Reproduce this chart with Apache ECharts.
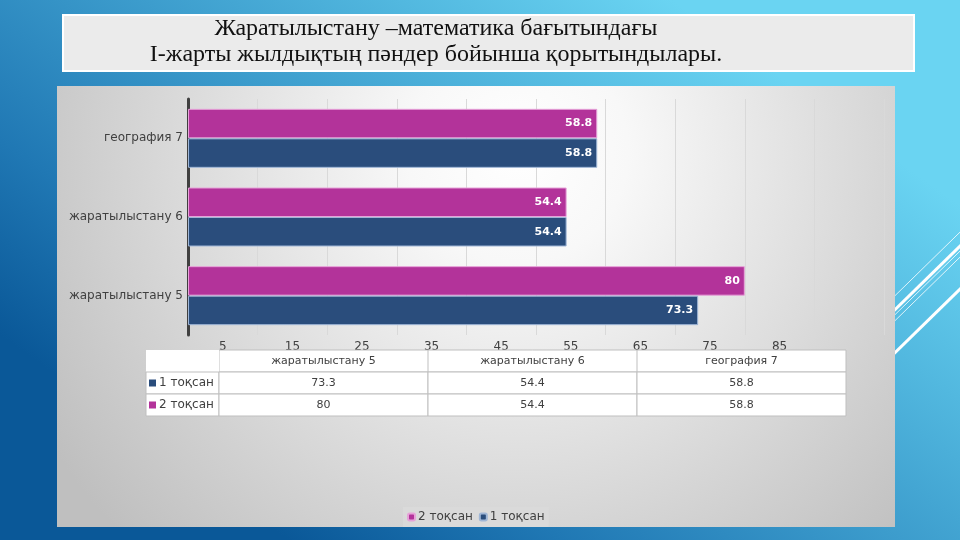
<!DOCTYPE html>
<html lang="kk">
<head>
    <meta charset="UTF-8">
    <title>Жаратылыстану – математика</title>
    <script src="https://cdn.jsdelivr.net/npm/echarts@6/dist/echarts.min.js"></script>
    <style>
        html, body { margin: 0; padding: 0; }
        #main { width: 960px; height: 540px; }
    </style>
</head>
<body>
<div id="main"></div>
<script>
    // данные
    var categories = ['жаратылыстану 5', 'жаратылыстану 6', 'география 7'];
    var q1Name = '1 тоқсан';
    var q2Name = '2 тоқсан';
    var q1Values = [73.3, 54.4, 58.8];
    var q2Values = [80, 54.4, 58.8];
    var xTickLabels = [5, 15, 25, 35, 45, 55, 65, 75, 85];
    var titleLines = ['Жаратылыстану –математика бағытындағы',
                      'І-жарты жылдықтың пәндер бойынша қорытындылары.'];

    var pink = '#b3339a';
    var blue = '#2a4d7c';
    var txt = '#404040';

    var myChart = echarts.init(document.getElementById('main'));

    // таблица под графиком
    var tbl = {x: 146, y: 350, firstW: 73, colW: 209, rowH: 22};
    var tableEls = [];
    var tblW = tbl.firstW + tbl.colW * categories.length;
    tableEls.push({type: 'rect', z: 1, shape: {x: tbl.x + tbl.firstW, y: tbl.y, width: tblW - tbl.firstW, height: tbl.rowH},
        style: {fill: '#ffffff', stroke: '#bfbfbf', lineWidth: 1}});
    tableEls.push({type: 'rect', z: 1, shape: {x: tbl.x, y: tbl.y, width: tbl.firstW, height: tbl.rowH},
        style: {fill: '#ffffff'}});
    var rows = [[q1Name, q1Values, blue], [q2Name, q2Values, pink]];
    categories.forEach(function (c, i) {
        tableEls.push({type: 'text', z: 2, style: {
            x: tbl.x + tbl.firstW + tbl.colW * (i + 0.5), y: tbl.y + tbl.rowH / 2,
            text: c, fill: txt, font: '11px "DejaVu Sans"', align: 'center', verticalAlign: 'middle'}});
    });
    rows.forEach(function (r, ri) {
        var ry = tbl.y + tbl.rowH * (ri + 1);
        tableEls.push({type: 'rect', z: 1, shape: {x: tbl.x, y: ry, width: tbl.firstW, height: tbl.rowH},
            style: {fill: '#ffffff', stroke: '#bfbfbf', lineWidth: 1}});
        tableEls.push({type: 'rect', z: 2, shape: {x: tbl.x + 3, y: ry + tbl.rowH / 2 - 3.5, width: 7, height: 7},
            style: {fill: r[2]}});
        tableEls.push({type: 'text', z: 2, style: {
            x: tbl.x + 13, y: ry + tbl.rowH / 2, text: r[0], fill: txt,
            font: '12px "DejaVu Sans"', align: 'left', verticalAlign: 'middle'}});
        r[1].forEach(function (v, i) {
            var cx = tbl.x + tbl.firstW + tbl.colW * i;
            tableEls.push({type: 'rect', z: 1, shape: {x: cx, y: ry, width: tbl.colW, height: tbl.rowH},
                style: {fill: '#ffffff', stroke: '#bfbfbf', lineWidth: 1}});
            tableEls.push({type: 'text', z: 2, style: {
                x: cx + tbl.colW / 2, y: ry + tbl.rowH / 2, text: String(v), fill: txt,
                font: '11px "DejaVu Sans"', align: 'center', verticalAlign: 'middle'}});
        });
    });
    for (var k = 1; k < categories.length; k++) {
        var lx = tbl.x + tbl.firstW + tbl.colW * k;
        tableEls.push({type: 'line', z: 2, shape: {x1: lx, y1: tbl.y, x2: lx, y2: tbl.y + tbl.rowH},
            style: {stroke: '#bfbfbf', lineWidth: 1}});
    }

    // декоративные линии справа
    var deco = [];
    [[296, 0.8], [310, 3], [315, 0.8], [321, 0.8], [353, 3]].forEach(function (d) {
        deco.push({type: 'line', z: -5, shape: {x1: 820, y1: d[0] + 73, x2: 1000, y2: d[0] - 103},
            style: {stroke: '#ffffff', lineWidth: d[1]}});
    });

    var option = {
        animation: false,
        graphic: [
            {type: 'rect', z: -10, shape: {x: 0, y: 0, width: 960, height: 540},
                style: {fill: {type: 'linear', x: 0.7, y: 0, x2: 0.3, y2: 1, colorStops: [
                    {offset: 0, color: '#6ad4f2'}, {offset: 0.24, color: '#52b8df'},
                    {offset: 0.76, color: '#2078b4'}, {offset: 1, color: '#0a5898'}]}}}
        ].concat(deco).concat([
            {type: 'rect', z: -4, shape: {x: 63, y: 15, width: 851, height: 56},
                style: {fill: '#ebebeb', stroke: '#ffffff', lineWidth: 2}},
            {type: 'text', z: -3, style: {x: 436, y: 29, text: titleLines[0], fill: '#111111',
                font: '24px "Liberation Serif"', align: 'center', verticalAlign: 'middle'}},
            {type: 'text', z: -3, style: {x: 436, y: 55, text: titleLines[1], fill: '#111111',
                font: '24px "Liberation Serif"', align: 'center', verticalAlign: 'middle'}},
            {type: 'rect', z: -4, shape: {x: 57, y: 86, width: 838, height: 441},
                style: {fill: {type: 'radial', x: 0.55, y: 0.15, r: 1.25, colorStops: [
                    {offset: 0, color: '#ffffff'}, {offset: 0.2, color: '#f8f8f8'},
                    {offset: 0.7, color: '#d4d4d4'}, {offset: 1, color: '#bfbfbf'}]}}}
        ]).concat(tableEls),
        legend: {
            data: [q2Name, q1Name],
            bottom: 13,
            left: 403,
            itemWidth: 7,
            itemHeight: 7,
            itemGap: 6,
            padding: [4, 4],
            backgroundColor: 'rgba(220,220,220,0.7)',
            textStyle: {color: txt, fontFamily: 'DejaVu Sans', fontSize: 12, padding: [0, 0, 0, -2]}
        },
        grid: {left: 188, right: 76, top: 99, bottom: 205, containLabel: false},
        xAxis: [
            {
                type: 'value', min: 0, max: 100, interval: 10,
                axisLine: {show: false}, axisTick: {show: false}, axisLabel: {show: false},
                splitLine: {show: true, lineStyle: {color: '#d9d9d9', width: 1}}
            },
            {
                type: 'value', min: 0, max: 100, interval: 5, position: 'bottom',
                axisLine: {show: false}, axisTick: {show: false}, splitLine: {show: false},
                axisLabel: {
                    color: txt, fontFamily: 'DejaVu Sans', fontSize: 12, margin: 6, showMaxLabel: true,
                    formatter: function (v) { return xTickLabels.indexOf(v) >= 0 ? String(v) : ''; }
                }
            }
        ],
        yAxis: {
            type: 'category', data: categories,
            axisLine: {show: true, lineStyle: {color: '#404040', width: 3}},
            axisTick: {show: false},
            axisLabel: {color: txt, fontFamily: 'DejaVu Sans', fontSize: 12, margin: 5}
        },
        series: [
            {
                name: q2Name, type: 'bar', data: q2Values, xAxisIndex: 0,
                barGap: '0%', barCategoryGap: '25%',
                itemStyle: {color: pink, borderColor: '#e6a2d8', borderWidth: 1},
                label: {show: true, position: 'insideRight', distance: 5, color: '#ffffff',
                    fontFamily: 'DejaVu Sans', fontWeight: 'bold', fontSize: 11}
            },
            {
                name: q1Name, type: 'bar', data: q1Values, xAxisIndex: 0,
                barGap: '0%', barCategoryGap: '25%',
                itemStyle: {color: blue, borderColor: '#9fb6d6', borderWidth: 1},
                label: {show: true, position: 'insideRight', distance: 5, color: '#ffffff',
                    fontFamily: 'DejaVu Sans', fontWeight: 'bold', fontSize: 11}
            }
        ]
    };
    myChart.setOption(option);
</script>
</body>
</html>
